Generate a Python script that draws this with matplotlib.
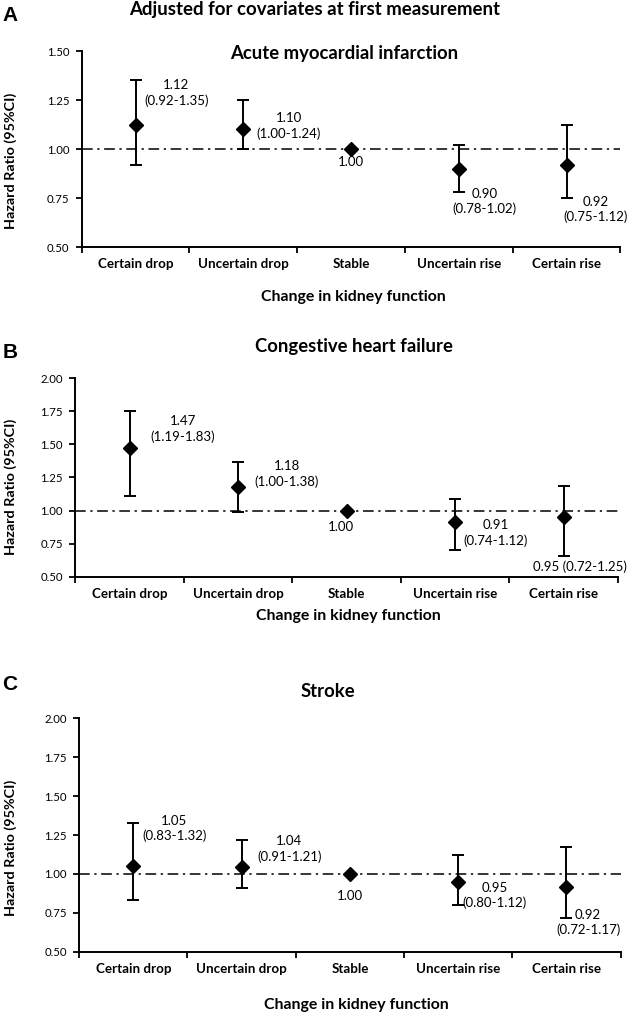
import matplotlib
matplotlib.use("Agg")
import matplotlib.pyplot as plt
from matplotlib.ticker import FixedLocator, NullFormatter

plt.rcParams['font.family'] = ['Lato', 'DejaVu Sans']

categories = ["Certain drop", "Uncertain drop", "Stable", "Uncertain rise", "Certain rise"]

ami_hr = [1.12, 1.10, 1.00, 0.90, 0.92]
ami_lo = [0.92, 1.00, 1.00, 0.78, 0.75]
ami_hi = [1.35, 1.25, 1.00, 1.02, 1.12]
ami_txt = ["1.12\n(0.92-1.35)", "1.10\n(1.00-1.24)", "1.00", "0.90\n(0.78-1.02)", "0.92\n(0.75-1.12)"]

chf_hr = [1.47, 1.18, 1.00, 0.91, 0.95]
chf_lo = [1.11, 0.99, 1.00, 0.70, 0.655]
chf_hi = [1.75, 1.365, 1.00, 1.085, 1.185]
chf_txt = ["1.47\n(1.19-1.83)", "1.18\n(1.00-1.38)", "1.00", "0.91\n(0.74-1.12)", "0.95 (0.72-1.25)"]

str_hr = [1.05, 1.045, 1.00, 0.95, 0.915]
str_lo = [0.835, 0.91, 1.00, 0.80, 0.72]
str_hi = [1.33, 1.215, 1.00, 1.12, 1.17]
str_txt = ["1.05\n(0.83-1.32)", "1.04\n(0.91-1.21)", "1.00", "0.95\n(0.80-1.12)", "0.92\n(0.72-1.17)"]

panels = [
    dict(letter="A", title="Acute myocardial infarction", hr=ami_hr, lo=ami_lo, hi=ami_hi, txt=ami_txt,
         ylim=(0.5, 1.5), yticks=[0.50, 0.75, 1.00, 1.25, 1.50],
         rect=[0.130, 0.7564, 0.858, 0.1933],
         tpos=(0.548, 0.9477), lpos=0.9852, xlab=(0.562, 0.7071), ylab_y=0.841,
         ann=[(0.38, 1.286), (0.42, 1.117), (0.0, 0.934), (0.24, 0.732), (0.27, 0.69)]),
    dict(letter="B", title="Congestive heart failure", hr=chf_hr, lo=chf_lo, hi=chf_hi, txt=chf_txt,
         ylim=(0.5, 2.0), yticks=[0.50, 0.75, 1.00, 1.25, 1.50, 1.75, 2.00],
         rect=[0.120, 0.4313, 0.864, 0.1956],
         tpos=(0.564, 0.6578), lpos=0.652, xlab=(0.555, 0.3925), ylab_y=0.520,
         ann=[(0.49, 1.617), (0.45, 1.276), (-0.05, 0.875), (0.37, 0.83), (0.15, 0.573)]),
    dict(letter="C", title="Stroke", hr=str_hr, lo=str_lo, hi=str_hi, txt=str_txt,
         ylim=(0.5, 2.0), yticks=[0.50, 0.75, 1.00, 1.25, 1.50, 1.75, 2.00],
         rect=[0.1261, 0.0614, 0.862, 0.2302],
         tpos=(0.522, 0.3176), lpos=0.3245, xlab=(0.567, 0.0085), ylab_y=0.164,
         ann=[(0.38, 1.292), (0.44, 1.16), (0.0, 0.861), (0.34, 0.861), (0.20, 0.69)]),
]

fig = plt.figure(figsize=(6.28, 10.14), dpi=100)

fig.text(0.5016, 0.9905, "Adjusted for covariates at first measurement",
         ha="center", va="center", fontsize=13.4, fontweight="bold")

x = list(range(len(categories)))

for p in panels:
    ax = fig.add_axes(p["rect"])
    err_lo = [h - l for h, l in zip(p["hr"], p["lo"])]
    err_hi = [u - h for h, u in zip(p["hr"], p["hi"])]
    ax.axhline(1.0, color="black", lw=1.1, ls=(0, (7, 3, 1.5, 3)), zorder=1)
    ax.errorbar(x, p["hr"], yerr=[err_lo, err_hi], fmt="D", color="black",
                ms=7, capsize=4.5, elinewidth=1.4, capthick=1.4, zorder=3)
    for i, (t, (dx, yy)) in enumerate(zip(p["txt"], p["ann"])):
        ax.text(i + dx, yy, t, ha="center", va="center", fontsize=9.5, linespacing=1.25)

    ax.set_xlim(-0.5, 4.5)
    ax.set_ylim(*p["ylim"])
    ax.set_yticks(p["yticks"])
    ax.set_yticklabels([f"{v:.2f}" for v in p["yticks"]], fontsize=8.2)
    ax.set_xticks(x)
    ax.set_xticklabels(categories, fontsize=9.6, fontweight="bold")
    ax.xaxis.set_minor_locator(FixedLocator([-0.5, 0.5, 1.5, 2.5, 3.5, 4.5]))
    ax.xaxis.set_minor_formatter(NullFormatter())
    ax.tick_params(axis="x", which="major", length=0, pad=8)
    ax.tick_params(axis="x", which="minor", length=4, width=1.3, direction="out")
    ax.tick_params(axis="y", length=4, width=1.3, direction="out", pad=5)
    for s in ["top", "right"]:
        ax.spines[s].set_visible(False)
    for s in ["left", "bottom"]:
        ax.spines[s].set_linewidth(1.4)

    fig.text(p["tpos"][0], p["tpos"][1], p["title"], ha="center", va="center",
             fontsize=13.3, fontweight="bold")
    fig.text(0.016, p["lpos"], p["letter"], ha="center", va="center",
             fontsize=15, fontweight="bold", family=["Liberation Sans", "DejaVu Sans"])
    fig.text(p["xlab"][0], p["xlab"][1], "Change in kidney function", ha="center", va="center",
             fontsize=11.4, fontweight="bold")
    fig.text(0.017, p["ylab_y"], "Hazard Ratio (95%CI)", ha="center", va="center",
             rotation=90, fontsize=10.4, fontweight="bold")

fig.savefig("out.png", dpi=100)
